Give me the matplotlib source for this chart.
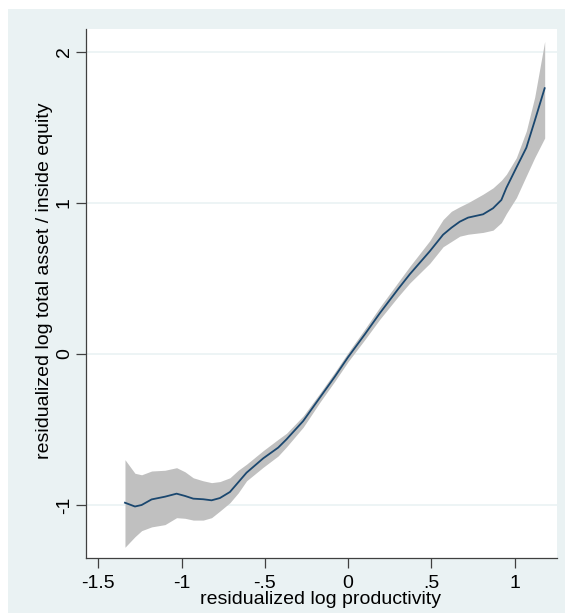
import matplotlib.pyplot as plt
from matplotlib.patches import Rectangle

BG = "#eaf2f3"
NAVY = "#1a476f"
BAND = "#c0c0c0"
AXIS = "#404040"

# local polynomial fit with 95% CI
x = [-1.34, -1.28, -1.24, -1.18, -1.10, -1.03, -0.98, -0.93, -0.87, -0.82,
     -0.77, -0.71, -0.66, -0.61, -0.51, -0.42, -0.37, -0.27, -0.17, -0.08,
     0.0, 0.10, 0.19, 0.30, 0.37, 0.49, 0.57, 0.62, 0.67, 0.72,
     0.81, 0.87, 0.92, 0.95, 1.01, 1.07, 1.12, 1.18]
fit = [-0.985, -1.01, -1.0, -0.963, -0.945, -0.925, -0.94, -0.958, -0.962, -0.969,
       -0.954, -0.914, -0.85, -0.786, -0.691, -0.620, -0.565, -0.444, -0.289, -0.15,
       -0.02, 0.13, 0.27, 0.43, 0.528, 0.68, 0.79, 0.836, 0.876, 0.903,
       0.925, 0.965, 1.02, 1.10, 1.234, 1.366, 1.543, 1.76]
ci_hi = [-0.70, -0.79, -0.80, -0.775, -0.77, -0.753, -0.78, -0.82, -0.84, -0.852,
         -0.845, -0.82, -0.77, -0.73, -0.64, -0.565, -0.525, -0.41, -0.26, -0.12,
         0.01, 0.165, 0.31, 0.475, 0.58, 0.75, 0.89, 0.945, 0.975, 1.002,
         1.058, 1.10, 1.15, 1.19, 1.30, 1.477, 1.70, 2.07]
ci_lo = [-1.28, -1.21, -1.17, -1.145, -1.13, -1.084, -1.088, -1.10, -1.10, -1.084,
         -1.04, -0.985, -0.92, -0.84, -0.75, -0.675, -0.615, -0.485, -0.32, -0.18,
         -0.05, 0.095, 0.23, 0.38, 0.47, 0.60, 0.71, 0.745, 0.78, 0.793,
         0.805, 0.82, 0.87, 0.93, 1.035, 1.18, 1.30, 1.43]

xticks = [-1.5, -1, -0.5, 0, 0.5, 1]
xticklabels = ["-1.5", "-1", "-.5", "0", ".5", "1"]
yticks = [-1, 0, 1, 2]
yticklabels = ["-1", "0", "1", "2"]

plt.rcParams["font.family"] = ["Liberation Sans", "DejaVu Sans"]
FS = 14

fig = plt.figure(figsize=(5.69, 6.13), dpi=100, facecolor="white")
fig.patches.append(Rectangle((8 / 569, 0), 557 / 569, 1 - 9 / 613,
                             transform=fig.transFigure, facecolor=BG,
                             edgecolor="none", zorder=-10))

ax = fig.add_axes([86 / 569, 1 - 558 / 613, 471 / 569, 529 / 613])
ax.set_facecolor("white")

ax.fill_between(x, ci_lo, ci_hi, color=BAND, linewidth=0, zorder=2)
ax.plot(x, fit, color=NAVY, linewidth=1.3, zorder=3)

ax.set_xlim(-1.574, 1.254)
ax.set_ylim(-1.351, 2.152)

ax.set_xticks(xticks)
ax.set_xticklabels(xticklabels)
ax.set_yticks(yticks)
ax.set_yticklabels(yticklabels, rotation=90, va="center")
ax.tick_params(axis="both", direction="out", length=7, width=0.9,
               color=AXIS, labelsize=FS, labelcolor="black")
ax.tick_params(axis="x", pad=5.0)
ax.tick_params(axis="y", pad=2.5)

ax.grid(axis="y", color=BG, linewidth=1.2, zorder=1)
ax.set_axisbelow(True)

for side in ["top", "right"]:
    ax.spines[side].set_visible(False)
for side in ["left", "bottom"]:
    ax.spines[side].set_color(AXIS)
    ax.spines[side].set_linewidth(0.9)

ax.set_xlabel("residualized log productivity", fontsize=FS)
ax.xaxis.set_label_coords(0.498, -0.063)
ax.set_ylabel("residualized log total asset / inside equity", fontsize=FS)
ax.yaxis.set_label_coords(-0.070, 0.525)

fig.savefig("out.png", dpi=100, facecolor="white")
